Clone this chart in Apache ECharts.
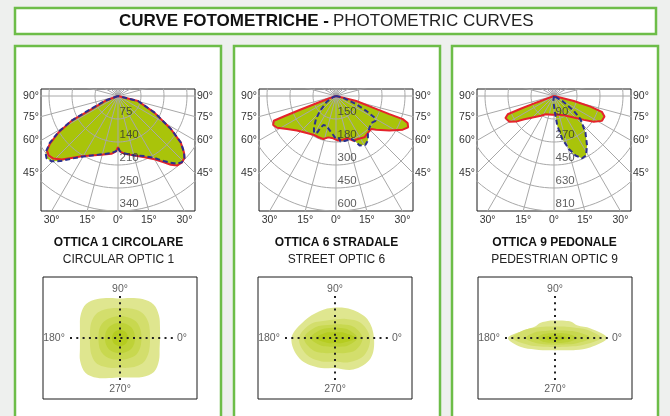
<!DOCTYPE html>
<html>
<head>
<meta charset="utf-8">
<script src="https://cdn.jsdelivr.net/npm/echarts@6.0.0/dist/echarts.min.js"></script>
<style>
html,body{margin:0;padding:0;background:#eef0ee;}
#chart{width:670px;height:416px;}
</style>
</head>
<body>
<div id="chart"></div>
<script>
// ================= DATA =================
const titleBold = 'CURVE FOTOMETRICHE -';
const titleLight = 'PHOTOMETRIC CURVES';
const panelTitles = ['OTTICA 1 CIRCOLARE', 'OTTICA 6 STRADALE', 'OTTICA 9 PEDONALE'];
const panelSubtitles = ['CIRCULAR OPTIC 1', 'STREET OPTIC 6', 'PEDESTRIAN OPTIC 9'];

// intensity ring labels (one per ring, inner to outer)
const ringLabels1 = ['75', '140', '210', '250', '340'];
const ringLabels2 = ['150', '180', '300', '450', '600'];
const ringLabels3 = ['90', '270', '450', '630', '810'];

// angle tick labels (degrees from nadir)
const sideAngles = [90, 75, 60, 45];
const bottomAngles = [-30, -15, 0, 15, 30];

// isolux crosshair labels: top, bottom, left, right
const crossLabels = ['90°', '270°', '180°', '0°'];

// photometric curves: angle from nadir (deg, + = right), radius in ring units
const red1Angles  = [-90,-69,-63,-62,-58.5,-55,-52.5,-49.5,-46,-41.5,-37,-31,-24,-16,-6.5,-2,0,2,6.5,15.5,23.5,30,35,37.5,40.5,44,47,49.5,53.5,58,65.5,76,90];
const red1Radii   = [0,0.61,1.45,2.28,3.03,3.61,3.89,3.97,3.91,3.69,3.37,3.06,2.83,2.66,2.53,2.41,2.23,2.41,2.53,2.68,2.9,3.18,3.53,3.77,3.97,4.01,3.95,3.77,3.39,2.71,1.74,0.89,0];
const blue1Angles = [-90,-70,-64,-62,-59,-55.5,-52,-49,-45.5,-41.5,-37,-31,-24,-16,-6.5,-2,0,2,6.5,15.5,23.5,30,35,38,41,44,47,49.5,53.5,58,65.5,76,90];
const blue1Radii  = [0,0.6,1.45,2.28,3.0,3.6,4.0,4.12,4.05,3.78,3.42,3.08,2.83,2.64,2.5,2.4,2.25,2.4,2.52,2.68,2.85,3.1,3.45,3.68,3.9,4.0,3.95,3.78,3.4,2.72,1.75,0.9,0];

const red2Angles  = [-90,-71,-69.5,-69,-68.6,-68.3,-65.2,-61.7,-56,-48.5,-38.3,-30.3,-23.1,-16.5,-10.6,-3.8,2.8,9.3,15.9,20.9,27.1,34.6,40.8,46.8,50,57.2,63.2,66.5,69.3,70.9,71.2,72.5,76.3,90];
const red2Radii   = [0,0.36,0.9,1.67,2.44,2.91,3.01,2.91,2.57,2.27,2.05,1.95,1.95,1.95,1.83,1.84,1.94,1.92,1.91,2.08,2.1,2.18,2.12,2.1,2.28,2.76,3.25,3.42,3.33,3.07,2.45,1.68,0.91,0];
const blue2Angles = [-90,-70,-57.7,-47.2,-40.9,-35,-30.8,-27.1,-26.3,-23.6,-17.6,-10,-4.1,0,4.3,5.6,11,19.7,23.3,25.5,31.1,35.6,40,46.8,52.4,57.9,60.8,63.8,67.9,76.7,90];
const blue2Radii  = [0,0.13,0.48,0.95,1.33,1.67,1.87,1.78,1.57,1.38,1.36,1.53,1.7,1.87,1.84,1.99,1.99,1.98,2.16,2.39,2.48,2.38,2.16,2.0,1.93,2.03,1.92,1.46,0.95,0.32,0];

const red3Angles  = [-90,-70,-69.5,-69,-68.5,-65.5,-60,-56,-52,-45,-33.7,-24.4,-5,10,27.4,42.7,51.3,57,62.6,67.9,71.7,73.8,76,90];
const red3Radii   = [0,0.3,0.8,1.55,2.16,2.32,2.24,1.99,1.64,1.32,1.03,0.87,0.82,0.82,0.94,1.27,1.66,2.06,2.35,2.37,2.19,1.65,0.89,0];
const blue3Angles = [-90,-30,-7.6,3.4,6.3,10.9,15.7,19.9,24.3,28.3,33.7,40.8,48.9,53.1,59,90];
const blue3Radii  = [0,0.05,0.22,0.72,1.3,1.9,2.39,2.75,2.97,2.94,2.59,2.09,1.53,1.08,0.42,0];

// isolux blobs: direction angles (deg, counter-clockwise from 0°) and radii per level (outer -> inner)
const blobAngles12 = [0,30,60,90,120,150,180,210,240,270,300,330];
const blobAngles24 = [0,15,30,45,60,75,90,105,120,135,150,165,180,195,210,225,240,255,270,285,300,315,330,345];
const blob1Levels = [
  [40,41.4,45,47.5,45,41.4,39.5,41.4,45,48,45.5,41.5,40,41.5,46,49,46,41.5,39.5,41,45,48,45,41],
  [30,30.8,32.5,33.5,32.5,30.8,29.8,30.8,32.5,33.8,32.8,31,30,31,33,34.5,33,31,29.8,30.8,32.5,33.8,32.5,30.8],
  [21.5,21.8,22.5,23,22.5,22,21.8,22,22.5,23,22.8,22,21.5,22,23,23.5,23,22.2,21.5,22,22.6,23.2,22.6,21.8],
  [15,15.1,15.3,15.6,15.3,15.2,15.2,15.2,15.3,15.6,15.4,15.2,15,15.2,15.5,15.8,15.5,15.2,15,15.2,15.4,15.7,15.4,15.1],
  [8,8,8.1,8.2,8.1,8,8,8,8.1,8.2,8.1,8,8,8,8.1,8.3,8.1,8,8,8,8.1,8.2,8.1,8]
];
const blob2Levels = [
  [39,37.5,33,30.5,31,35,43.5,41,34,30,36.5,41],
  [35,30,22,18.5,20,28,36,33,27,23.5,28,34],
  [27.5,22,15.5,13.5,15,22,31,25,17.5,14.7,17.5,24],
  [22.3,16,11.5,10.3,11.5,16.5,24.3,15.5,10,8.4,10,15],
  [20.7,10.5,6.5,5.6,6.5,10.5,19.3,9.5,6,5,6,9.5]
];
const blob3Levels = [
  [52,36.8,25.4,23,19.9,18.1,17.5,18.1,19,21.2,23,31,47,35.2,23.2,17.4,14.1,12.8,12.5,12.8,14.1,17.3,23.9,36.3],
  [45.7,32.5,21.2,15.9,13.3,12,11.6,12,13.2,15.8,21,31.4,42.6,27.3,16.9,12.4,10.3,9.3,9,9.3,10.3,12.5,17,28],
  [35.7,23,14.3,10.5,8.7,7.9,7.6,7.9,8.7,10.4,13.9,21.1,29.3,19.7,12.5,9.2,7.7,6.9,6.7,6.9,7.7,9.3,12.7,21.2],
  [22.4,14.9,9.3,6.9,5.7,5.2,5,5.2,5.7,6.8,9,13.3,17.6,13.3,9,6.8,5.7,5.2,5,5.2,5.7,6.9,9.3,14.9],
  [12.4,7.9,4.9,3.6,3,2.7,2.6,2.7,3,3.6,4.8,7.5,11,7.6,4.9,3.7,3.1,2.8,2.7,2.8,3.1,3.7,5,8]
];

// ================= STYLE / LAYOUT =================
const FONT = "'Liberation Sans', Arial, Helvetica, sans-serif";
const D2R = Math.PI / 180;
const GREEN = '#6dbd48';
const FILL = '#a9c40a';
const RED = '#e5232b';
const BLUE = '#2b2f8f';
const GRIDC = '#a8a8a8';
const TXT = '#333';
const LEVEL_COLORS = ['#dfe68f', '#d3de6c', '#c8d84f', '#bed237', '#b5cc20'];

const RING_PX = 23;
const PANEL_X = [15, 234, 452], PANEL_W = 206, PANEL_TOP = 46;
const PANEL_CX = [118.5, 336.5, 554.5];
const POLAR_LEFT = [41, 259, 477], POLAR_TOP = 89, POLAR_W = 154, POLAR_H = 122, ABOVE_PX = 7;
const BLOB_LEFT = [43, 258, 478], BLOB_TOP = 277, BLOB_W = 154, BLOB_H = 122;
const CROSS_H = [-50, 55], CROSS_V = [42, -44];
const CROSS_LABEL_POS = [[0, 49], [0, -51], [-66, 0], [62, 0]];

const HW = POLAR_W / 2 / RING_PX;              // half width in ring units
const DEPTH = (POLAR_H - ABOVE_PX) / RING_PX;  // depth below centre in ring units
const TOPU = ABOVE_PX / RING_PX;

const diagrams = [
  { rings: ringLabels1, curves: [[red1Angles, red1Radii, RED, 'solid'], [blue1Angles, blue1Radii, BLUE, [5, 3]]], blobAngles: blobAngles24, blob: blob1Levels },
  { rings: ringLabels2, curves: [[red2Angles, red2Radii, RED, 'solid'], [blue2Angles, blue2Radii, BLUE, [5, 3]]], blobAngles: blobAngles12, blob: blob2Levels },
  { rings: ringLabels3, curves: [[red3Angles, red3Radii, RED, 'solid'], [blue3Angles, blue3Radii, BLUE, [5, 3]]], blobAngles: blobAngles24, blob: blob3Levels }
];

function nadirToXY(a, r) { return [r * Math.sin(a * D2R), -r * Math.cos(a * D2R)]; }
function curvePoints(angles, radii) { return angles.map((a, i) => nadirToXY(a, radii[i])); }
function blobPoints(angles, radii) { return angles.map((a, i) => [radii[i] * Math.cos(a * D2R), radii[i] * Math.sin(a * D2R)]); }

const grid = [], xAxis = [], yAxis = [], series = [], graphic = [];
const labelStyle = { fontFamily: FONT, fontSize: 10.5, color: TXT };

diagrams.forEach((d, i) => {
  // ---------- photometric polar diagram (drawn in a cartesian frame) ----------
  let gi = grid.length;
  grid.push({ left: POLAR_LEFT[i], top: POLAR_TOP, width: POLAR_W, height: POLAR_H, show: true,
    backgroundColor: '#fff', borderColor: '#1a1a1a', borderWidth: 1, z: 1 });
  let xi = xAxis.length;
  xAxis.push({ gridIndex: gi, type: 'value', min: -HW, max: HW,
    axisLine: { show: false }, axisTick: { show: false }, splitLine: { show: false },
    axisLabel: Object.assign({ margin: 4,
      customValues: bottomAngles.map(a => DEPTH * Math.tan(a * D2R)),
      formatter: v => Math.round(Math.abs(Math.atan2(v, DEPTH)) / D2R) + '°' }, labelStyle) });
  let yi = yAxis.length;
  ['left', 'right'].forEach(pos => {
    yAxis.push({ gridIndex: gi, type: 'value', position: pos, min: -DEPTH, max: TOPU,
      axisLine: { show: false }, axisTick: { show: false }, splitLine: { show: false },
      axisLabel: Object.assign({ margin: 2,
        customValues: sideAngles.map(a => -HW / Math.tan(a * D2R)),
        formatter: v => Math.round(Math.atan2(HW, -v) / D2R) + '°' }, labelStyle) });
  });

  // fills (both curves, same colour)
  d.curves.forEach(c => {
    const pts = curvePoints(c[0], c[1]);
    series.push({ type: 'custom', xAxisIndex: xi, yAxisIndex: yi, data: [[0, 0]], z: 2, silent: true,
      renderItem: (params, api) => ({ type: 'polygon',
        shape: { points: pts.map(p => api.coord(p)) }, style: { fill: FILL } }) });
  });

  // grid circles
  d.rings.forEach((lab, k) => {
    const r = k + 1, pts = [];
    for (let t = 0; t <= 360; t += 3) pts.push([r * Math.cos(t * D2R), r * Math.sin(t * D2R)]);
    series.push({ type: 'line', xAxisIndex: xi, yAxisIndex: yi, data: pts, symbol: 'none', clip: true,
      silent: true, z: 3, lineStyle: { color: GRIDC, width: 1 } });
  });
  // radial lines every 15°
  for (let a = 0; a < 180; a += 15) {
    const p = nadirToXY(a, 8), q = nadirToXY(a + 180, 8);
    series.push({ type: 'line', xAxisIndex: xi, yAxisIndex: yi, data: [p, q], symbol: 'none', clip: true,
      silent: true, z: 3, lineStyle: { color: GRIDC, width: 1 } });
  }
  // curve outlines
  d.curves.forEach((c, ci) => {
    series.push({ type: 'line', xAxisIndex: xi, yAxisIndex: yi, data: curvePoints(c[0], c[1]),
      symbol: 'none', clip: true, silent: true, z: 4 + ci,
      lineStyle: { color: c[2], width: 2, type: c[3] } });
  });
  // ring labels
  series.push({ type: 'scatter', xAxisIndex: xi, yAxisIndex: yi, symbolSize: 1, z: 8, silent: true,
    itemStyle: { color: 'rgba(0,0,0,0)' },
    data: d.rings.map((lab, k) => [0, -(k + 1), lab]),
    label: { show: true, position: 'right', distance: 1, offset: [0, -7], formatter: p => p.value[2],
      fontFamily: FONT, fontSize: 11.5, color: TXT } });

  // ---------- isolux blob ----------
  gi = grid.length;
  grid.push({ left: BLOB_LEFT[i], top: BLOB_TOP, width: BLOB_W, height: BLOB_H, show: true,
    backgroundColor: '#fff', borderColor: '#1a1a1a', borderWidth: 1, z: 1 });
  xi = xAxis.length;
  xAxis.push({ gridIndex: gi, type: 'value', min: -BLOB_W / 2, max: BLOB_W / 2, show: false });
  yi = yAxis.length;
  yAxis.push({ gridIndex: gi, type: 'value', min: -BLOB_H / 2, max: BLOB_H / 2, show: false });
  d.blob.forEach((radii, li) => {
    const pts = blobPoints(d.blobAngles, radii);
    series.push({ type: 'custom', xAxisIndex: xi, yAxisIndex: yi, data: [[0, 0]], z: 2 + li * 0.01, silent: true,
      renderItem: (params, api) => ({ type: 'polygon',
        shape: { points: pts.map(p => api.coord(p)), smooth: 0.35 }, style: { fill: LEVEL_COLORS[li] } }) });
  });
  series.push({ type: 'line', xAxisIndex: xi, yAxisIndex: yi, data: [[CROSS_H[0], 0], [CROSS_H[1], 0]],
    symbol: 'none', silent: true, z: 5, lineStyle: { color: '#222', width: 2, type: [2, 4.3] } });
  series.push({ type: 'line', xAxisIndex: xi, yAxisIndex: yi, data: [[0, CROSS_V[0]], [0, CROSS_V[1]]],
    symbol: 'none', silent: true, z: 5, lineStyle: { color: '#222', width: 2, type: [2, 4.3] } });
  series.push({ type: 'scatter', xAxisIndex: xi, yAxisIndex: yi, symbolSize: 1, z: 8, silent: true,
    itemStyle: { color: 'rgba(0,0,0,0)' },
    data: crossLabels.map((lab, k) => [CROSS_LABEL_POS[k][0], CROSS_LABEL_POS[k][1], lab]),
    label: { show: true, position: 'inside', formatter: p => p.value[2],
      fontFamily: FONT, fontSize: 10.5, color: TXT } });

  // ---------- panel frame and texts ----------
  graphic.push({ type: 'rect', z: -10, shape: { x: PANEL_X[i], y: PANEL_TOP, width: PANEL_W, height: 420 },
    style: { fill: '#fff', stroke: GREEN, lineWidth: 2.5 } });
  graphic.push({ type: 'text', z: 10, x: PANEL_CX[i], y: 243,
    style: { text: panelTitles[i], textAlign: 'center', textVerticalAlign: 'middle',
      font: 'bold 12px ' + FONT, fill: '#111' } });
  graphic.push({ type: 'text', z: 10, x: PANEL_CX[i], y: 260,
    style: { text: panelSubtitles[i], textAlign: 'center', textVerticalAlign: 'middle',
      font: '12px ' + FONT, fill: '#222' } });
});

graphic.push({ type: 'rect', z: -10, shape: { x: 15, y: 8, width: 641, height: 26 },
  style: { fill: '#fff', stroke: GREEN, lineWidth: 2.5 } });
graphic.push({ type: 'text', z: 10, x: 329, y: 21.5,
  style: { text: titleBold, textAlign: 'right', textVerticalAlign: 'middle', font: 'bold 17px ' + FONT, fill: '#111' } });
graphic.push({ type: 'text', z: 10, x: 333, y: 21.5,
  style: { text: titleLight, textAlign: 'left', textVerticalAlign: 'middle', font: '17px ' + FONT, fill: '#222' } });

const chart = echarts.init(document.getElementById('chart'), null, { renderer: 'canvas' });
chart.setOption({
  animation: false,
  backgroundColor: '#eef0ee',
  grid, xAxis, yAxis, series, graphic
});
</script>
</body>
</html>
